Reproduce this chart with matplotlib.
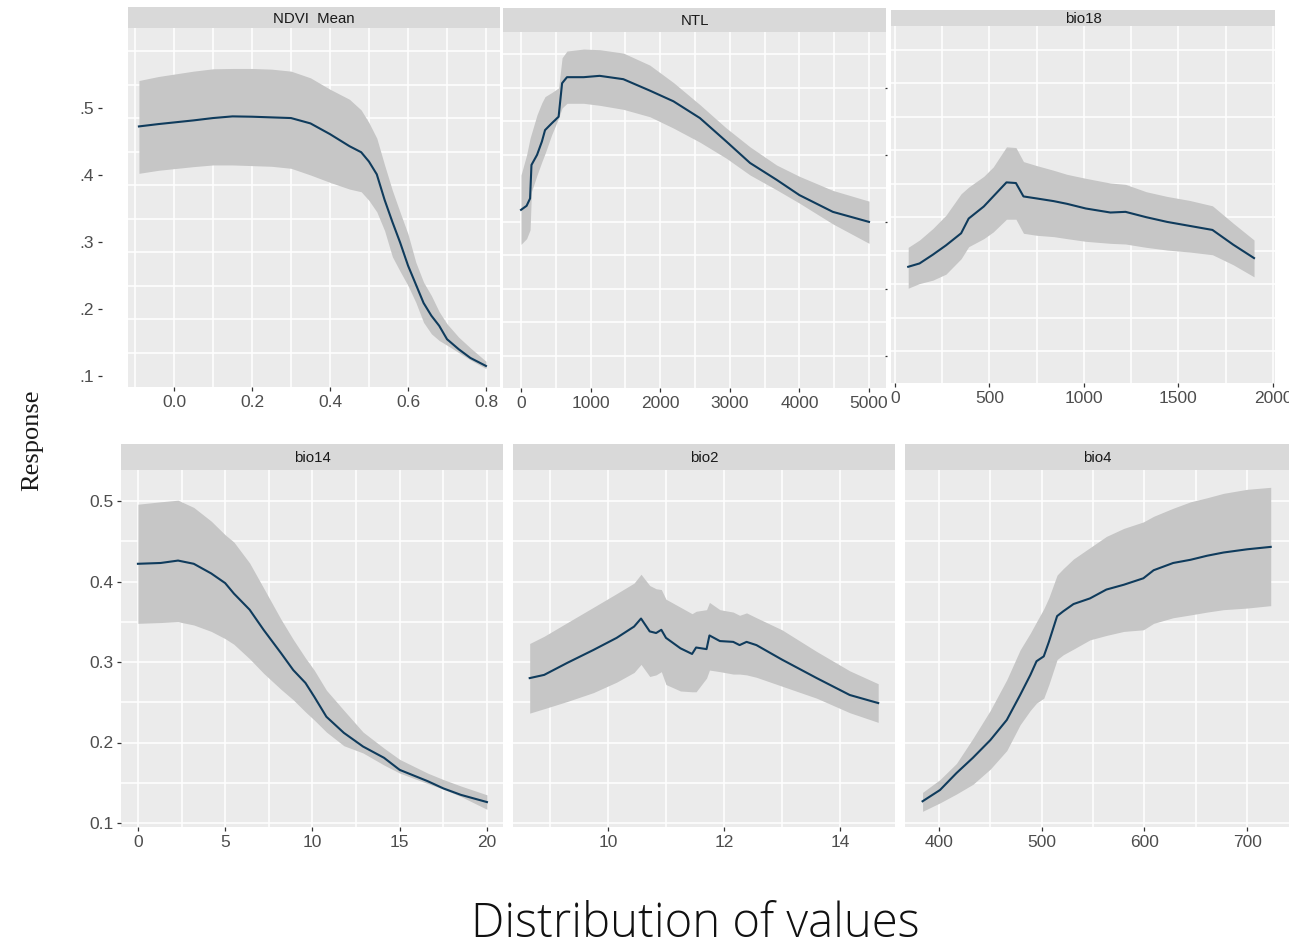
import matplotlib.pyplot as plt

plt.rcParams['font.family'] = ['Liberation Sans', 'DejaVu Sans']

# response curves: x, mean, lower and upper bound of the ribbon
ndvi_x = [-0.09, -0.04, 0.05, 0.10, 0.15, 0.20, 0.25, 0.30, 0.35, 0.40, 0.45, 0.48, 0.50,
          0.52, 0.54, 0.56, 0.58, 0.60, 0.62, 0.64, 0.66, 0.68, 0.70, 0.73, 0.76, 0.80]
ndvi_mean = [0.4725, 0.476, 0.4815, 0.485, 0.4875, 0.487, 0.486, 0.485, 0.477, 0.461, 0.443, 0.434, 0.420,
             0.401, 0.363, 0.330, 0.299, 0.265, 0.237, 0.209, 0.190, 0.175, 0.155, 0.140, 0.127, 0.115]
ndvi_lo = [0.4025, 0.407, 0.4125, 0.415, 0.415, 0.414, 0.413, 0.410, 0.400, 0.389, 0.379, 0.375, 0.362,
           0.345, 0.317, 0.278, 0.256, 0.235, 0.210, 0.180, 0.163, 0.153, 0.146, 0.135, 0.124, 0.111]
ndvi_hi = [0.541, 0.547, 0.555, 0.5585, 0.559, 0.559, 0.558, 0.555, 0.545, 0.528, 0.513, 0.497, 0.478,
           0.455, 0.415, 0.377, 0.344, 0.312, 0.270, 0.240, 0.220, 0.196, 0.178, 0.158, 0.142, 0.122]

ntl_x = [0, 80, 130, 150, 230, 300, 345, 440, 540, 590, 660, 900, 1130, 1470, 1850, 2190,
         2570, 2950, 3290, 3670, 4000, 4480, 5000]
ntl_mean = [0.348, 0.354, 0.365, 0.415, 0.430, 0.450, 0.467, 0.477, 0.487, 0.537, 0.546, 0.546,
            0.548, 0.543, 0.526, 0.510, 0.485, 0.450, 0.418, 0.393, 0.370, 0.345, 0.330]
ntl_lo = [0.2965, 0.305, 0.318, 0.375, 0.400, 0.420, 0.432, 0.460, 0.485, 0.500, 0.507, 0.507,
          0.504, 0.498, 0.487, 0.470, 0.449, 0.425, 0.400, 0.378, 0.358, 0.327, 0.298]
ntl_hi = [0.400, 0.430, 0.455, 0.462, 0.490, 0.508, 0.517, 0.523, 0.530, 0.575, 0.585, 0.588,
          0.587, 0.582, 0.564, 0.538, 0.505, 0.470, 0.442, 0.415, 0.398, 0.377, 0.361]

bio18_x = [70, 130, 200, 270, 350, 390, 470, 520, 590, 640, 680, 750, 840, 910, 1010, 1140,
           1220, 1330, 1440, 1560, 1680, 1790, 1900]
bio18_mean = [0.263, 0.268, 0.281, 0.295, 0.313, 0.335, 0.353, 0.368, 0.389, 0.388, 0.368, 0.365,
              0.361, 0.357, 0.350, 0.344, 0.345, 0.337, 0.330, 0.324, 0.318, 0.296, 0.276]
bio18_lo = [0.231, 0.238, 0.243, 0.252, 0.275, 0.293, 0.305, 0.315, 0.334, 0.334, 0.313, 0.310,
            0.308, 0.305, 0.301, 0.298, 0.297, 0.292, 0.288, 0.285, 0.281, 0.266, 0.248]
bio18_hi = [0.292, 0.303, 0.320, 0.340, 0.372, 0.382, 0.398, 0.412, 0.442, 0.441, 0.420, 0.414,
            0.407, 0.401, 0.395, 0.388, 0.386, 0.375, 0.368, 0.362, 0.354, 0.328, 0.303]

bio14_x = [0, 1.3, 2.3, 3.2, 4.2, 5.0, 5.5, 6.4, 7.2, 8.2, 8.9, 9.6, 10.1, 10.8, 11.8, 12.9,
           14.1, 15.0, 16.6, 17.5, 18.5, 20]
bio14_mean = [0.422, 0.423, 0.426, 0.422, 0.410, 0.398, 0.385, 0.365, 0.340, 0.311, 0.290, 0.274,
              0.257, 0.232, 0.212, 0.195, 0.181, 0.166, 0.152, 0.143, 0.135, 0.126]
bio14_lo = [0.348, 0.349, 0.350, 0.346, 0.338, 0.329, 0.322, 0.304, 0.286, 0.266, 0.253, 0.238,
            0.228, 0.213, 0.196, 0.187, 0.172, 0.162, 0.149, 0.142, 0.133, 0.117]
bio14_hi = [0.496, 0.499, 0.501, 0.492, 0.475, 0.458, 0.449, 0.423, 0.392, 0.353, 0.328, 0.305,
            0.290, 0.265, 0.240, 0.213, 0.193, 0.179, 0.162, 0.154, 0.146, 0.135]

bio2_x = [8.65, 8.9, 9.3, 9.75, 10.15, 10.45, 10.57, 10.72, 10.83, 10.92, 11.0, 11.25, 11.45,
          11.52, 11.7, 11.75, 11.93, 12.16, 12.27, 12.39, 12.56, 13.0, 13.6, 14.17, 14.66]
bio2_mean = [0.280, 0.284, 0.299, 0.315, 0.330, 0.344, 0.354, 0.338, 0.336, 0.340, 0.330, 0.317,
             0.310, 0.318, 0.316, 0.333, 0.326, 0.325, 0.321, 0.325, 0.321, 0.303, 0.280, 0.259, 0.249]
bio2_lo = [0.2365, 0.242, 0.251, 0.262, 0.275, 0.287, 0.297, 0.282, 0.284, 0.288, 0.272, 0.264,
           0.263, 0.263, 0.280, 0.290, 0.288, 0.285, 0.285, 0.284, 0.281, 0.270, 0.255, 0.237, 0.225]
bio2_hi = [0.323, 0.332, 0.349, 0.368, 0.385, 0.398, 0.409, 0.395, 0.391, 0.390, 0.378, 0.368,
           0.360, 0.363, 0.365, 0.374, 0.365, 0.362, 0.358, 0.361, 0.355, 0.340, 0.313, 0.289, 0.273]

bio4_x = [384, 401, 417, 433, 450, 466, 479, 489, 495, 502, 507, 515, 521, 531, 547, 563, 580,
          599, 609, 628, 645, 661, 677, 700, 723]
bio4_mean = [0.127, 0.141, 0.162, 0.181, 0.203, 0.228, 0.259, 0.284, 0.301, 0.307, 0.325, 0.357,
             0.363, 0.372, 0.379, 0.390, 0.396, 0.404, 0.414, 0.423, 0.427, 0.432, 0.436, 0.440, 0.443]
bio4_lo = [0.1145, 0.125, 0.136, 0.148, 0.167, 0.190, 0.222, 0.240, 0.249, 0.255, 0.272, 0.303,
           0.309, 0.316, 0.3275, 0.333, 0.338, 0.340, 0.348, 0.355, 0.3585, 0.362, 0.365, 0.367, 0.370]
bio4_hi = [0.138, 0.154, 0.174, 0.205, 0.240, 0.278, 0.315, 0.336, 0.350, 0.366, 0.380, 0.408,
           0.416, 0.428, 0.442, 0.456, 0.466, 0.474, 0.481, 0.491, 0.499, 0.504, 0.5095, 0.5145, 0.517]

W, H = 1289, 949
fig = plt.figure(figsize=(W / 100, H / 100), dpi=100)

PANEL_BG = '#EBEBEB'
STRIP_BG = '#D9D9D9'
RIBBON = '#C6C6C6'
LINE = '#0F3B5C'
TICK_TXT = '#4D4D4D'


def add_panel(box, strip_top, title, x, mean, lo, hi, xlim, ylim,
              xticks, xlabels, xgrid, ygrid):
    l, t, r, b = box
    ax = fig.add_axes([l / W, 1 - b / H, (r - l) / W, (b - t) / H])
    ax.set_facecolor(PANEL_BG)
    for v in xgrid:
        ax.axvline(v, color='white', lw=1.1, zorder=0.5)
    for v in ygrid:
        ax.axhline(v, color='white', lw=1.1, zorder=0.5)
    ax.fill_between(x, lo, hi, color=RIBBON, lw=0, zorder=1)
    ax.plot(x, mean, color=LINE, lw=1.5, zorder=2)
    ax.set_xlim(*xlim)
    ax.set_ylim(*ylim)
    ax.set_xticks(xticks, xlabels)
    ax.set_yticks([])
    ax.tick_params(axis='x', length=3, width=0.9, color='#333333',
                   labelsize=12.5, labelcolor=TICK_TXT, pad=2.5)
    for s in ax.spines.values():
        s.set_visible(False)

    sax = fig.add_axes([l / W, 1 - t / H, (r - l) / W, (t - strip_top) / H])
    sax.set_facecolor(STRIP_BG)
    sax.set_xticks([])
    sax.set_yticks([])
    for s in sax.spines.values():
        s.set_visible(False)
    sax.text(0.5, 0.45, title, ha='center', va='center', fontsize=10.8,
             color='#1A1A1A', transform=sax.transAxes)
    return ax


top_ylim = lambda top, bot: (0.5 - (bot - 108) / 670, 0.5 - (top - 108) / 670)

ax1 = add_panel((128, 28, 500, 387), 7, 'NDVI  Mean', ndvi_x, ndvi_mean, ndvi_lo, ndvi_hi,
                (-0.118, 0.836), top_ylim(28, 387),
                [0.0, 0.2, 0.4, 0.6, 0.8], ['0.0', '0.2', '0.4', '0.6', '0.8'],
                [-0.1, 0.0, 0.1, 0.2, 0.3, 0.4, 0.5, 0.6, 0.7, 0.8],
                [0.135 + 0.05 * k for k in range(10)])
ax1.set_yticks([0.1, 0.2, 0.3, 0.4, 0.5], ['.1', '.2', '.3', '.4', '.5'])
ax1.spines['left'].set_position(('outward', 18.7))
ax1.tick_params(axis='y', length=3, width=0.9, color='#333333',
                labelsize=12.5, labelcolor=TICK_TXT, pad=3)

ax2 = add_panel((503, 32, 886, 388), 8, 'NTL', ntl_x, ntl_mean, ntl_lo, ntl_hi,
                (-259, 5244), top_ylim(32, 388),
                [0, 1000, 2000, 3000, 4000, 5000], ['0', '1000', '2000', '3000', '4000', '5000'],
                list(range(0, 5001, 500)),
                [0.13 + 0.05 * k for k in range(10)])

ax3 = add_panel((891, 26, 1275, 383), 10, 'bio18', bio18_x, bio18_mean, bio18_lo, bio18_hi,
                (-21, 2011), top_ylim(26, 383),
                [0, 500, 1000, 1500, 2000], ['0', '500', '1000', '1500', '2000'],
                list(range(0, 2001, 250)),
                [0.137 + 0.05 * k for k in range(10)])
ax3.set_yticks([0.13, 0.23, 0.33, 0.43, 0.53], [''] * 5)
ax3.spines['left'].set_position(('outward', 3))
ax3.tick_params(axis='y', length=1.5, width=0.9, color='#333333')

bot_ylim = (0.5 - (827 - 501) / 805, 0.5 + (501 - 470) / 805)
bot_ygrid = [0.1 + 0.05 * k for k in range(9)]

ax4 = add_panel((121, 470, 503, 827), 444, 'bio14', bio14_x, bio14_mean, bio14_lo, bio14_hi,
                (-0.97, 20.92), bot_ylim,
                [0, 5, 10, 15, 20], ['0', '5', '10', '15', '20'],
                [0, 2.5, 5, 7.5, 10, 12.5, 15, 17.5, 20], bot_ygrid)
ax4.set_yticks([0.1, 0.2, 0.3, 0.4, 0.5], ['0.1', '0.2', '0.3', '0.4', '0.5'])
ax4.tick_params(axis='y', length=3, width=0.9, color='#333333',
                labelsize=12.5, labelcolor=TICK_TXT, pad=2.5)

ax5 = add_panel((513, 470, 895, 827), 444, 'bio2', bio2_x, bio2_mean, bio2_lo, bio2_hi,
                (8.362, 14.95), bot_ylim,
                [10, 12, 14], ['10', '12', '14'],
                [9, 10, 11, 12, 13, 14], bot_ygrid)

ax6 = add_panel((905, 470, 1289, 827), 444, 'bio4', bio4_x, bio4_mean, bio4_lo, bio4_hi,
                (366.9, 740.8), bot_ylim,
                [400, 500, 600, 700], ['400', '500', '600', '700'],
                [400, 450, 500, 550, 600, 650, 700], bot_ygrid)

fig.text(32 / W, 1 - 440 / H, 'Response', rotation=90, ha='center', va='center',
         family=['Liberation Serif', 'DejaVu Serif'], fontsize=19, color='#1A1A1A')
fig.text(695 / W, 1 - 937 / H, 'Distribution of values', ha='center', va='baseline',
         family=['Open Sans', 'DejaVu Sans'], fontweight='light', fontsize=34,
         color='#111111')

fig.savefig('out.png', dpi=100, facecolor='white')
